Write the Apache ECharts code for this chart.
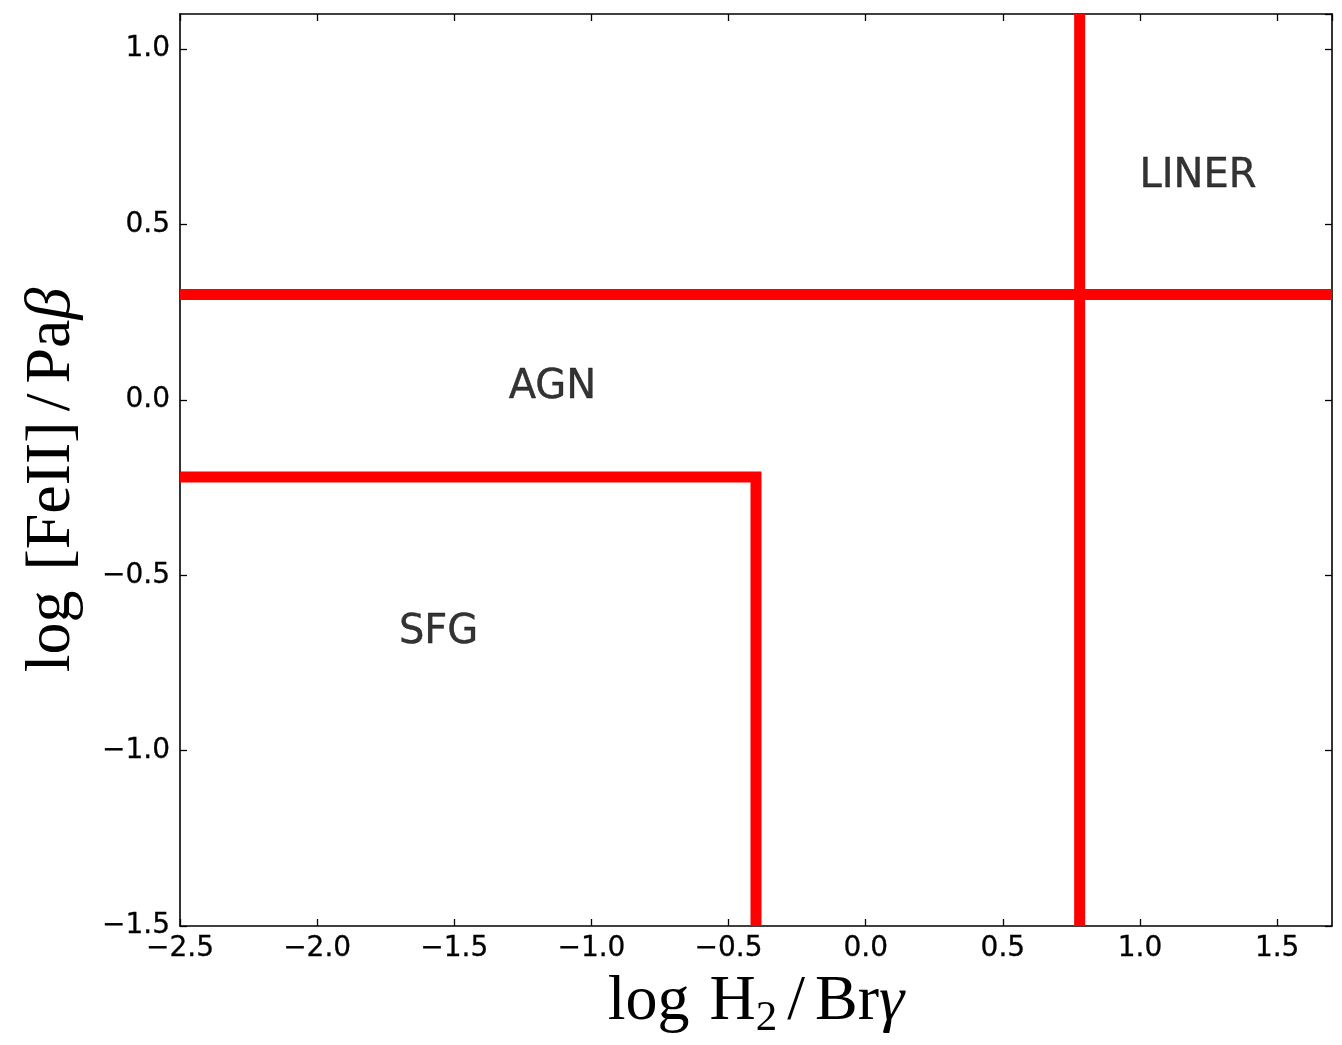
<!DOCTYPE html>
<html>
<head>
<meta charset="utf-8">
<script src="https://cdn.jsdelivr.net/npm/echarts@6/dist/echarts.min.js"></script>
<style>
html,body{margin:0;padding:0;background:#fff;overflow:hidden;}
#chart{width:1342px;height:1045px;}
</style>
</head>
<body>
<div id="chart"></div>
<script>
// ---- data ----
const xRange = [-2.5, 1.7];
const yRange = [-1.5, 1.1];
const tickStep = 0.5;
// boundary lines
const agnLinerBoundaryY = 0.3;      // horizontal line
const linerBoundaryX = 0.78;        // vertical line
const sfgCornerX = -0.4;            // SFG box right edge
const sfgCornerY = -0.22;           // SFG box top edge
// region labels: name, x, y (left/baseline anchor)
const regionNames = ['LINER', 'AGN', 'SFG'];
const regionX = [1.0, -1.3, -1.7];
const regionY = [0.6, 0.0, -0.7];

// ---- build series data from arrays ----
const hLine = [[xRange[0], agnLinerBoundaryY], [xRange[1], agnLinerBoundaryY]];
const vLine = [[linerBoundaryX, yRange[0]], [linerBoundaryX, yRange[1]]];
const sfgLine = [[xRange[0], sfgCornerY], [sfgCornerX, sfgCornerY], [sfgCornerX, yRange[0]]];
const labelData = regionNames.map((n, i) => ({ name: n, value: [regionX[i], regionY[i]] }));

const fmt = v => {
  const a = Math.abs(v).toFixed(1);
  return (v < -1e-9 ? '\u2212' : '') + a;
};

const tickFont = { fontFamily: 'DejaVu Sans', fontSize: 28, color: '#000', textBorderColor: '#000', textBorderWidth: 0.3 };
const spine = { show: true, onZero: false, lineStyle: { color: '#000', width: 1.6 } };
const tick = { show: true, inside: true, length: 7, lineStyle: { color: '#000', width: 1.3 } };

const serif = 'Liberation Serif';
const titleRich = {
  n: { fontFamily: serif, fontSize: 64, color: '#000' },
  i: { fontFamily: serif, fontSize: 64, fontStyle: 'italic', color: '#000' },
  sl: { fontFamily: serif, fontSize: 64, color: '#000', padding: [0, 10, 0, 10] },
  sp: { fontFamily: serif, fontSize: 64, color: '#000', padding: [0, 4, 0, 0] },
  s: { fontFamily: serif, fontSize: 43, color: '#000', padding: [32, 0, 0, 0] }
};

const lineSeries = (data) => ({
  type: 'line',
  data: data,
  symbol: 'none',
  clip: true,
  silent: true,
  animation: false,
  lineStyle: { color: '#ff0000', width: 11, cap: 'butt', join: 'miter' }
});

const option = {
  backgroundColor: '#fff',
  animation: false,
  grid: { left: 180, top: 14, width: 1152, height: 922, containLabel: false },
  xAxis: [
    {
      type: 'value', position: 'bottom', min: xRange[0], max: xRange[1], interval: tickStep,
      axisLine: spine, axisTick: tick, splitLine: { show: false },
      axisLabel: Object.assign({ margin: 9, formatter: fmt, showMaxLabel: false }, tickFont),
      name: '{n|log}{sp| }{n|H}{s|2}{sl|/}{n|Br}{i|γ}',
      nameLocation: 'middle', nameGap: 39,
      nameTextStyle: { rich: titleRich }
    },
    {
      type: 'value', position: 'top', min: xRange[0], max: xRange[1], interval: tickStep,
      axisLine: spine, axisTick: tick, splitLine: { show: false },
      axisLabel: { show: false }
    }
  ],
  yAxis: [
    {
      type: 'value', position: 'left', min: yRange[0], max: yRange[1], interval: tickStep,
      axisLine: spine, axisTick: tick, splitLine: { show: false },
      axisLabel: Object.assign({ margin: 10, formatter: fmt, showMaxLabel: false }, tickFont),
      name: '{n|log}{sp| }{n|[FeII]}{sl|/}{n|Pa}{i|β}',
      nameLocation: 'middle', nameGap: 96, nameRotate: 90,
      nameTextStyle: { rich: titleRich, padding: [0, 20, 0, 0] }
    },
    {
      type: 'value', position: 'right', min: yRange[0], max: yRange[1], interval: tickStep,
      axisLine: spine, axisTick: tick, splitLine: { show: false },
      axisLabel: { show: false }
    }
  ],
  series: [
    lineSeries(hLine),
    lineSeries(vLine),
    lineSeries(sfgLine),
    {
      type: 'scatter',
      data: labelData,
      symbolSize: 1,
      itemStyle: { color: 'rgba(0,0,0,0)' },
      silent: true,
      label: {
        show: true,
        formatter: p => p.name,
        position: [0, 0],
        align: 'left',
        verticalAlign: 'middle',
        offset: [0, -12],
        fontFamily: 'DejaVu Sans',
        fontSize: 40,
        color: '#000',
        textBorderColor: '#000',
        textBorderWidth: 0.4
      }
    }
  ]
};

const chart = echarts.init(document.getElementById('chart'), null, { renderer: 'canvas', width: 1342, height: 1045 });
chart.setOption(option);
</script>
</body>
</html>
